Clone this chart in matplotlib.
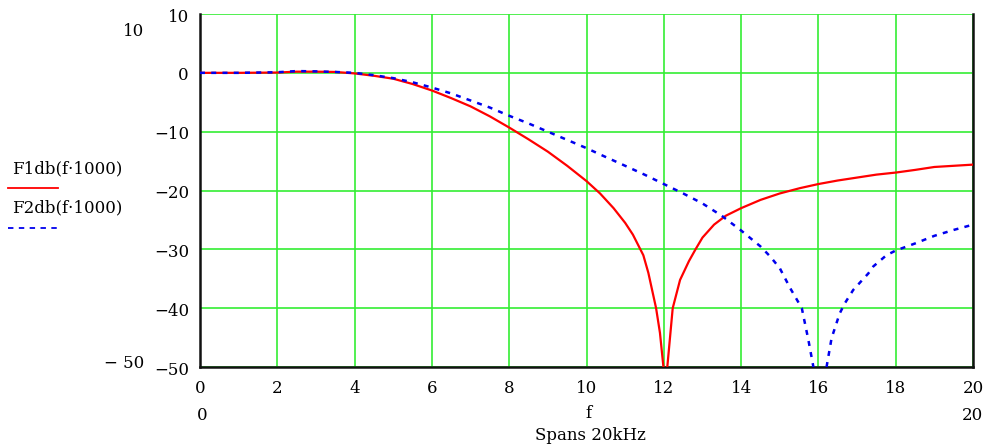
import matplotlib
matplotlib.use('Agg')
import matplotlib.pyplot as plt
from matplotlib.lines import Line2D
from matplotlib.transforms import offset_copy

# F1db(f*1000): left and right of the notch at ~12 kHz
f1_left = [0, 1, 2, 2.5, 3, 3.5, 4, 4.5, 5, 5.5, 6, 6.5, 7, 7.5, 8, 8.5, 9, 9.5,
           10, 10.35, 10.7, 11.0, 11.2, 11.47, 11.6, 11.8, 11.9, 11.99]
db1_left = [0, 0, 0.05, 0.2, 0.2, 0.15, -0.1, -0.5, -1.0, -1.9, -3.0, -4.3, -5.7, -7.4,
            -9.3, -11.3, -13.4, -15.8, -18.4, -20.5, -23.0, -25.5, -27.5, -31.0, -34.0,
            -40.0, -44.2, -50.0]
f1_right = [12.09, 12.23, 12.42, 12.65, 12.82, 13.0, 13.3, 13.6, 14, 14.5, 15, 15.52,
            16, 16.5, 17, 17.5, 18, 18.5, 19, 19.5, 20]
db1_right = [-50.0, -40.0, -35.2, -32.0, -30.0, -28.0, -25.8, -24.3, -23.0, -21.6, -20.5,
             -19.6, -18.9, -18.3, -17.8, -17.3, -16.95, -16.5, -16.0, -15.8, -15.6]

# F2db(f*1000): notch at ~16 kHz
f2_left = [0, 1, 2, 2.5, 3, 3.5, 4, 4.5, 5, 5.5, 6, 6.5, 7, 7.5, 8, 8.5, 9, 9.5, 10,
           10.36, 11, 11.5, 12, 12.5, 13, 13.5, 14, 14.5, 14.75, 15, 15.27, 15.57,
           15.74, 15.87]
db2_left = [0, 0, 0.1, 0.3, 0.25, 0.15, 0, -0.4, -0.9, -1.6, -2.5, -3.5, -4.7, -5.9,
            -7.3, -8.6, -10.0, -11.4, -12.8, -13.9, -15.8, -17.3, -18.9, -20.5, -22.2,
            -24.3, -26.8, -29.5, -31.2, -33.2, -36.6, -40.0, -45.4, -50.0]
f2_right = [16.21, 16.34, 16.55, 16.68, 16.9, 17.29, 17.42, 17.76, 18, 18.5, 19, 19.5, 20]
db2_right = [-50.0, -45.1, -40.9, -39.2, -36.9, -34.1, -32.9, -31.0, -30.2, -29.0,
             -27.7, -26.7, -25.8]

x_ticks = [0, 2, 4, 6, 8, 10, 12, 14, 16, 18, 20]
y_ticks = [10, 0, -10, -20, -30, -40, -50]
y_labels = ['10', '0', '\u221210', '\u221220', '\u221230', '\u221240', '\u221250']

plt.rcParams['font.family'] = ['DejaVu Serif']
fig = plt.figure(figsize=(9.93, 4.46), dpi=100)
ax = fig.add_axes([0.2014, 0.1771, 0.7785, 0.7915])

grid_green = '#33ee33'
for x in x_ticks:
    ax.axvline(x, color=grid_green, lw=1.2, zorder=1)
for y in y_ticks:
    ax.axhline(y, color=grid_green, lw=1.2, zorder=1)

red = '#ff0000'
blue = '#0000ee'
ax.plot(f1_left, db1_left, color=red, lw=1.6, zorder=3)
ax.plot(f1_right, db1_right, color=red, lw=1.6, zorder=3)
ax.plot(f2_left, db2_left, color=blue, lw=1.8, ls=(0, (2, 2.5)), zorder=4)
ax.plot(f2_right, db2_right, color=blue, lw=1.8, ls=(0, (2, 2.5)), zorder=4)

ax.set_xlim(0, 20)
ax.set_ylim(-50, 10)
ax.set_xticks(x_ticks)
ax.set_xticklabels([str(x) for x in x_ticks])
ax.set_yticks(y_ticks)
ax.set_yticklabels([])
ax.tick_params(length=0, labelsize=12)
ax.tick_params(axis='x', pad=9)

# y labels, a little below their grid line like the original
ylab_tr = offset_copy(ax.get_yaxis_transform(), fig=fig, x=-11, y=-3, units='dots')
for y, lab in zip(y_ticks, y_labels):
    ax.text(0, y, lab, transform=ylab_tr, fontsize=12, ha='right', va='center')

for side in ['left', 'bottom', 'right']:
    ax.spines[side].set_color('#111111')
    ax.spines[side].set_linewidth(1.8)
ax.spines['top'].set_visible(False)

# Mathcad-style range labels
fig.text(134 / 993, 1 - 31 / 446, '10', fontsize=12, ha='center', va='center')
fig.text(124 / 993, 1 - 364 / 446, '\u2212 50', fontsize=12, ha='center', va='center')
fig.text(202 / 993, 1 - 416 / 446, '0', fontsize=12, ha='center', va='center')
fig.text(972 / 993, 1 - 416 / 446, '20', fontsize=12, ha='center', va='center')
fig.text(588 / 993, 1 - 413 / 446, 'f', fontsize=12, ha='center', va='center')
fig.text(590 / 993, 1 - 435 / 446, 'Spans 20kHz', fontsize=12, ha='center', va='center')

# legend at left
fig.text(12 / 993, 1 - 169 / 446, 'F1db(f\u00b71000)', fontsize=12, ha='left', va='center')
fig.text(12 / 993, 1 - 208 / 446, 'F2db(f\u00b71000)', fontsize=12, ha='left', va='center')
fig.add_artist(Line2D([8 / 993, 58 / 993], [1 - 188 / 446, 1 - 188 / 446],
                      color=red, lw=1.3, transform=fig.transFigure))
fig.add_artist(Line2D([8 / 993, 58 / 993], [1 - 228 / 446, 1 - 228 / 446],
                      color=blue, lw=1.3, ls=(0, (3, 3)), transform=fig.transFigure))

fig.savefig('out.png', dpi=100)
